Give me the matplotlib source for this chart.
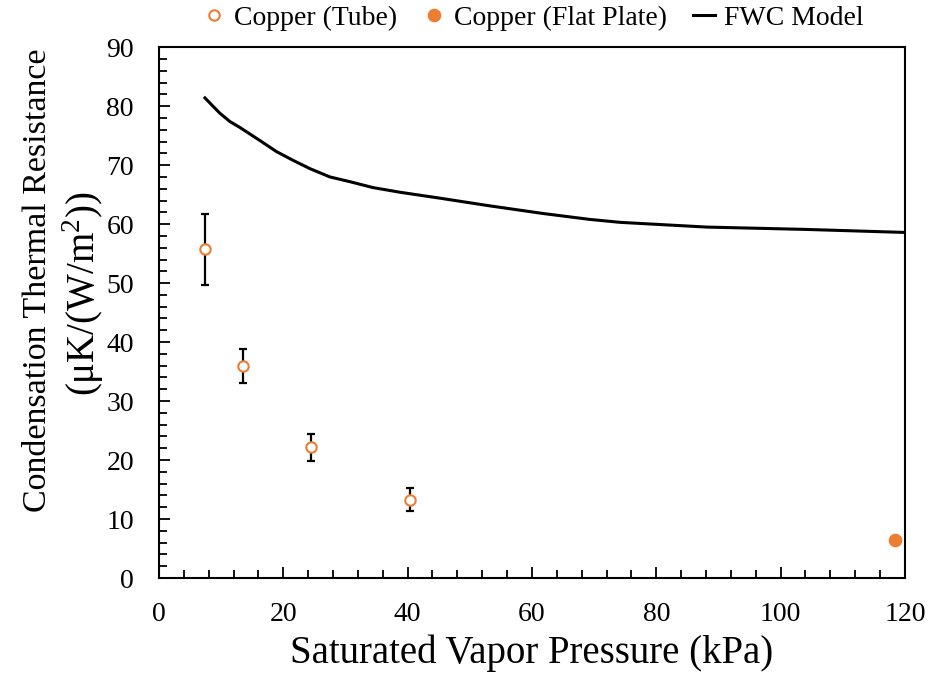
import matplotlib
matplotlib.use("Agg")
import matplotlib.pyplot as plt
from matplotlib.ticker import MultipleLocator

plt.rcParams['font.family'] = ['Liberation Serif', 'DejaVu Serif']
plt.rcParams['mathtext.fontset'] = 'custom'
plt.rcParams['mathtext.rm'] = 'Liberation Serif'

# Copper (Tube) data
tube_p = [7.4, 13.5, 24.4, 40.4]
tube_r = [55.7, 36.0, 22.2, 13.3]
tube_err_up = [6.0, 2.8, 2.3, 2.0]
tube_err_lo = [6.0, 2.9, 2.3, 1.9]

# Copper (Flat Plate)
flat_p = [118.4]
flat_r = [6.4]

# FWC model curve
model_p = [7.4, 8.5, 9.8, 11.4, 13.0, 16.2, 18.9, 21.6, 24.3, 27.5, 30.7, 34.4,
           38.8, 45.2, 53.2, 61.8, 69.3, 74.2, 88.1, 104.2, 119.7, 120.0]
model_r = [81.4, 80.2, 78.8, 77.4, 76.4, 74.2, 72.3, 70.8, 69.4, 68.0, 67.2, 66.2,
           65.4, 64.4, 63.1, 61.8, 60.8, 60.3, 59.5, 59.1, 58.6, 58.6]

orange = '#ED7D31'

fig = plt.figure(figsize=(9.49, 6.74), dpi=100)
ax = fig.add_axes([0.1675, 0.1424, 0.7861, 0.7876])

ax.errorbar(tube_p, tube_r, yerr=[tube_err_lo, tube_err_up], fmt='none',
            ecolor='black', elinewidth=1.6, capsize=3.2, capthick=1.6, zorder=2)
h1, = ax.plot(tube_p, tube_r, 'o', mfc='white', mec=orange, mew=1.5, ms=7.5,
              linestyle='none', zorder=3, label='Copper (Tube)')
h2, = ax.plot(flat_p, flat_r, 'o', color=orange, ms=8.8, linestyle='none',
              zorder=3, label='Copper (Flat Plate)')
h3, = ax.plot(model_p, model_r, '-', color='black', lw=2.2, zorder=2,
              label='FWC Model')

ax.set_xlim(0, 120)
ax.set_ylim(0, 90)
ax.xaxis.set_major_locator(MultipleLocator(20))
ax.xaxis.set_minor_locator(MultipleLocator(4))
ax.yaxis.set_major_locator(MultipleLocator(10))
ax.yaxis.set_minor_locator(MultipleLocator(2))
ax.tick_params(which='both', direction='in', top=False, right=False,
               width=1.3, labelsize=20)
ax.tick_params(which='major', length=8)
ax.tick_params(which='minor', length=6)
ax.tick_params(axis='x', which='major', pad=17)
ax.tick_params(axis='y', which='major', pad=18)
for s in ax.spines.values():
    s.set_linewidth(1.5)

ax.set_xlabel('Saturated Vapor Pressure (kPa)', fontsize=28, labelpad=6)

# Two-line y label placed as figure text
fig.text(38 / 949, 1 - 280 / 674, 'Condensation Thermal Resistance', rotation=90,
         fontsize=24.5, ha='center', va='center')
fig.text(83 / 949, 1 - 294 / 674, '(μK/(W/m$^\\mathregular{2}$))', rotation=90,
         fontsize=28, ha='center', va='center')

leg = fig.legend(handles=[h1, h2, h3], loc='center', bbox_to_anchor=(0.562, 0.973),
                 ncol=3, frameon=False, fontsize=20, handlelength=0.8,
                 handletextpad=0.3, columnspacing=0.95, borderaxespad=0)

fig.savefig('out.png', dpi=100)
